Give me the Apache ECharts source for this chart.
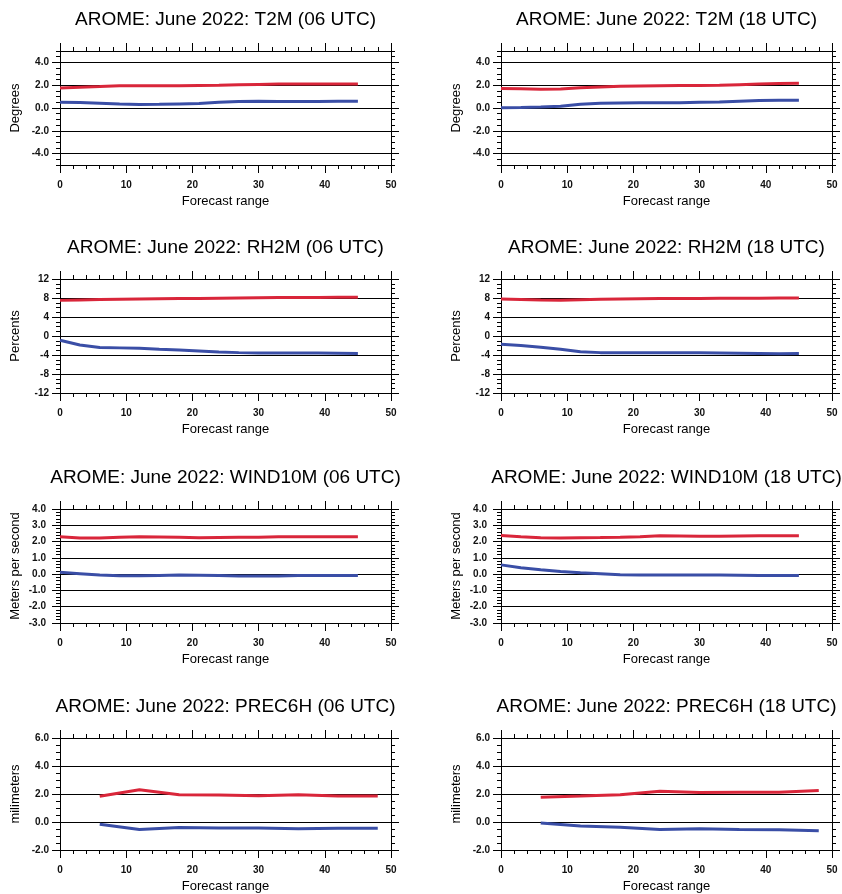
<!DOCTYPE html>
<html>
<head>
<meta charset="utf-8">
<script src="https://cdn.jsdelivr.net/npm/echarts@6/dist/echarts.min.js"></script>
<style>
html,body{margin:0;padding:0;background:#fff;}
#chart{width:842px;height:894px;}
</style>
</head>
<body>
<div id="chart"></div>
<script>
// ---- data ----
const hours = [0, 3, 6, 9, 12, 15, 18, 21, 24, 27, 30, 33, 36, 39, 42, 45];
const precHours = [6, 12, 18, 24, 30, 36, 42, 48];

const titles = [
  'AROME: June 2022: T2M (06 UTC)', 'AROME: June 2022: T2M (18 UTC)',
  'AROME: June 2022: RH2M (06 UTC)', 'AROME: June 2022: RH2M (18 UTC)',
  'AROME: June 2022: WIND10M (06 UTC)', 'AROME: June 2022: WIND10M (18 UTC)',
  'AROME: June 2022: PREC6H (06 UTC)', 'AROME: June 2022: PREC6H (18 UTC)'
];
const yNames = ['Degrees', 'Degrees', 'Percents', 'Percents',
  'Meters per second', 'Meters per second', 'milimeters', 'milimeters'];
const xName = 'Forecast range';
const xTicks = [0, 10, 20, 30, 40, 50];

const t2mTicks = [-4, -2, 0, 2, 4];
const rhTicks = [-12, -8, -4, 0, 4, 8, 12];
const windTicks = [-3, -2, -1, 0, 1, 2, 3, 4];
const precTicks = [-2, 0, 2, 4, 6];

const t2m06Red = [1.75, 1.82, 1.88, 1.95, 1.95, 1.95, 1.96, 1.98, 2.0, 2.04, 2.07, 2.1, 2.1, 2.1, 2.1, 2.1];
const t2m06Blue = [0.5, 0.48, 0.42, 0.35, 0.3, 0.32, 0.36, 0.4, 0.5, 0.58, 0.6, 0.58, 0.57, 0.58, 0.6, 0.6];
const t2m18Red = [1.7, 1.68, 1.65, 1.67, 1.78, 1.85, 1.9, 1.93, 1.96, 1.97, 1.98, 2.0, 2.05, 2.1, 2.15, 2.18];
const t2m18Blue = [0.03, 0.05, 0.08, 0.15, 0.32, 0.42, 0.44, 0.45, 0.45, 0.47, 0.5, 0.52, 0.6, 0.66, 0.68, 0.68];

const rh06Red = [7.5, 7.6, 7.7, 7.75, 7.8, 7.85, 7.9, 7.9, 7.95, 8.0, 8.05, 8.1, 8.1, 8.1, 8.15, 8.15];
const rh06Blue = [-0.9, -1.9, -2.4, -2.5, -2.6, -2.8, -2.95, -3.15, -3.35, -3.5, -3.6, -3.6, -3.6, -3.6, -3.65, -3.7];
const rh18Red = [7.8, 7.7, 7.6, 7.55, 7.65, 7.75, 7.8, 7.85, 7.9, 7.9, 7.9, 7.95, 7.95, 7.95, 8.0, 8.0];
const rh18Blue = [-1.75, -2.0, -2.35, -2.8, -3.3, -3.5, -3.5, -3.5, -3.5, -3.5, -3.55, -3.6, -3.65, -3.7, -3.75, -3.7];

const wind06Red = [2.29, 2.22, 2.22, 2.27, 2.3, 2.28, 2.26, 2.24, 2.25, 2.26, 2.27, 2.3, 2.3, 2.3, 2.29, 2.29];
const wind06Blue = [0.12, 0.03, -0.06, -0.1, -0.1, -0.08, -0.06, -0.07, -0.09, -0.11, -0.12, -0.11, -0.09, -0.08, -0.08, -0.09];
const wind18Red = [2.37, 2.3, 2.24, 2.22, 2.24, 2.25, 2.27, 2.3, 2.35, 2.34, 2.33, 2.33, 2.34, 2.35, 2.36, 2.36];
const wind18Blue = [0.57, 0.39, 0.27, 0.16, 0.08, 0.02, -0.04, -0.06, -0.06, -0.05, -0.05, -0.06, -0.07, -0.08, -0.08, -0.08];

const prec06Red = [1.84, 2.3, 1.95, 1.93, 1.88, 1.95, 1.86, 1.86];
const prec06Blue = [-0.16, -0.54, -0.4, -0.42, -0.43, -0.49, -0.45, -0.45];
const prec18Red = [1.76, 1.85, 1.95, 2.2, 2.1, 2.12, 2.12, 2.25];
const prec18Blue = [-0.07, -0.28, -0.38, -0.54, -0.49, -0.54, -0.56, -0.63];

// ---- panel setup ----
const panels = [
  {min: -5, max: 5, ticks: t2mTicks, minor: 0.5, dec: 1, xs: hours, red: t2m06Red, blue: t2m06Blue},
  {min: -5, max: 5, ticks: t2mTicks, minor: 0.5, dec: 1, xs: hours, red: t2m18Red, blue: t2m18Blue},
  {min: -12, max: 12, ticks: rhTicks, minor: 1, dec: 0, xs: hours, red: rh06Red, blue: rh06Blue},
  {min: -12, max: 12, ticks: rhTicks, minor: 1, dec: 0, xs: hours, red: rh18Red, blue: rh18Blue},
  {min: -3, max: 4, ticks: windTicks, minor: 0.2, dec: 1, xs: hours, red: wind06Red, blue: wind06Blue},
  {min: -3, max: 4, ticks: windTicks, minor: 0.2, dec: 1, xs: hours, red: wind18Red, blue: wind18Blue},
  {min: -2, max: 6, ticks: precTicks, minor: 0.5, dec: 1, xs: precHours, red: prec06Red, blue: prec06Blue},
  {min: -2, max: 6, ticks: precTicks, minor: 0.5, dec: 1, xs: precHours, red: prec18Red, blue: prec18Blue}
];

const FONT = '"Liberation Sans", Arial, Helvetica, sans-serif';
const RED = '#d9263a';
const BLUE = '#3a4ea6';
const colLeft = [60, 501];
const rowTop = [51, 279, 509, 738];
const PW = 331, PH = 114;

const grid = [], xAxis = [], yAxis = [], series = [], graphic = [];
const black = {color: '#000', width: 1};

panels.forEach((p, i) => {
  const L = colLeft[i % 2], T = rowTop[Math.floor(i / 2)];
  grid.push({left: L, top: T, width: PW, height: PH, containLabel: false});

  graphic.push({
    type: 'text', x: L + PW / 2, y: T - 31, z: 10,
    style: {text: titles[i], font: '19px ' + FONT, fill: '#000', textAlign: 'center', textVerticalAlign: 'middle'}
  });

  const xBase = {
    gridIndex: i, type: 'value', min: 0, max: 50, interval: 10,
    axisLine: {show: true, onZero: false, lineStyle: black},
    axisTick: {show: true, inside: false, length: 8, lineStyle: black},
    minorTick: {show: true, splitNumber: 5, length: 4, lineStyle: black},
    splitLine: {show: false}
  };
  xAxis.push(Object.assign({}, xBase, {
    position: 'bottom',
    axisLabel: {show: true, customValues: xTicks, fontSize: 10, fontWeight: 'bold', color: '#111', fontFamily: FONT, margin: 15},
    name: xName, nameLocation: 'middle', nameGap: 30,
    nameTextStyle: {fontSize: 13, color: '#000', fontFamily: FONT}
  }));
  xAxis.push(Object.assign({}, xBase, {position: 'top', axisLabel: {show: false}}));

  const mainIdx = yAxis.length;
  const fmt = v => Number(v).toFixed(p.dec);
  const lblMargin = (i === 4 || i === 5) ? 14 : 11;
  // main left axis: labels, major ticks, grid lines
  yAxis.push({
    gridIndex: i, type: 'value', position: 'left', min: p.min, max: p.max, interval: p.minor,
    axisLine: {show: true, onZero: false, lineStyle: black},
    axisTick: {show: true, length: 8, customValues: p.ticks, lineStyle: black},
    axisLabel: {show: true, customValues: p.ticks, formatter: fmt, fontSize: 10, fontWeight: 'bold', color: '#111', fontFamily: FONT, margin: lblMargin},
    splitLine: {show: true, lineStyle: {color: '#000', width: 1}},
    name: yNames[i], nameLocation: 'middle', nameGap: 38,
    nameTextStyle: {fontSize: 13, color: '#000', fontFamily: FONT}
  });
  // minor left ticks
  yAxis.push({
    gridIndex: i, type: 'value', position: 'left', min: p.min, max: p.max, interval: p.minor,
    axisLine: {show: false, onZero: false},
    axisTick: {show: true, length: 4, lineStyle: black},
    axisLabel: {show: false}, splitLine: {show: false}
  });
  // right mirrored major / minor
  yAxis.push({
    gridIndex: i, type: 'value', position: 'right', min: p.min, max: p.max, interval: p.minor,
    axisLine: {show: true, onZero: false, lineStyle: black},
    axisTick: {show: true, length: 8, customValues: p.ticks, lineStyle: black},
    axisLabel: {show: false}, splitLine: {show: false}
  });
  yAxis.push({
    gridIndex: i, type: 'value', position: 'right', min: p.min, max: p.max, interval: p.minor,
    axisLine: {show: false, onZero: false},
    axisTick: {show: true, length: 4, lineStyle: black},
    axisLabel: {show: false}, splitLine: {show: false}
  });

  [[p.red, RED], [p.blue, BLUE]].forEach(([vals, col]) => {
    series.push({
      type: 'line', xAxisIndex: i * 2, yAxisIndex: mainIdx,
      data: p.xs.map((x, k) => [x, vals[k]]),
      showSymbol: false, smooth: false, z: 5,
      lineStyle: {color: col, width: 3}, itemStyle: {color: col}
    });
  });
});

const chart = echarts.init(document.getElementById('chart'), null, {renderer: 'canvas'});
chart.setOption({
  animation: false,
  backgroundColor: '#fff',
  textStyle: {fontFamily: FONT},
  grid, xAxis, yAxis, series, graphic
});
</script>
</body>
</html>
